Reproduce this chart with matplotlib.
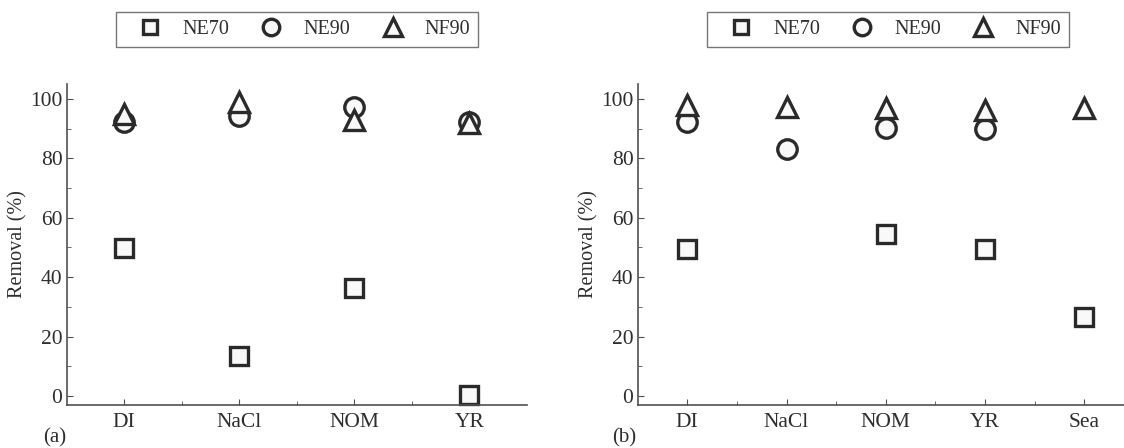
import matplotlib
matplotlib.use("Agg")
import matplotlib.pyplot as plt
from matplotlib.ticker import MultipleLocator

plt.rcParams['font.family'] = ['Liberation Serif', 'DejaVu Serif']

# panel (a)
cats_a = ["DI", "NaCl", "NOM", "YR"]
ne70_a = [49.7, 13.4, 36.5, 0.2]
ne90_a = [92.2, 94.2, 97.3, 92.2]
nf90_a = [95.0, 99.0, 93.0, 92.0]

# panel (b)
cats_b = ["DI", "NaCl", "NOM", "YR", "Sea"]
ne70_b = [49.5, None, 54.5, 49.5, 26.5]
ne90_b = [92.3, 83.2, 90.3, 89.7, None]
nf90_b = [97.8, 97.2, 96.8, 96.2, 96.8]

series_names = ["NE70", "NE90", "NF90"]
markers = ["s", "o", "^"]
sizes = [12.5, 14, 15]
edge = "#2a2a2a"
face = "#f9f9f9"
txt = "#2e2e2e"

fig = plt.figure(figsize=(11.24, 4.48), dpi=100)
ax_a = fig.add_axes([0.0593, 0.0967, 0.4096, 0.7158])
ax_b = fig.add_axes([0.5673, 0.0967, 0.4416, 0.7158])


def draw(ax, cats, data):
    x = list(range(1, len(cats) + 1))
    handles = []
    for vals, m, ms, name in zip(data, markers, sizes, series_names):
        xs = [xi for xi, v in zip(x, vals) if v is not None]
        ys = [v for v in vals if v is not None]
        h, = ax.plot(xs, ys, linestyle="none", marker=m, markersize=ms,
                     markerfacecolor=face, markeredgecolor=edge,
                     markeredgewidth=2.4, label=name, clip_on=False)
        handles.append(h)
    ax.set_xlim(0.5, len(cats) + 0.5)
    ax.set_ylim(-2.9, 105)
    ax.set_xticks(x)
    ax.set_xticklabels(cats)
    ax.set_xticks([i + 0.5 for i in x[:-1]], minor=True)
    ax.yaxis.set_minor_locator(MultipleLocator(10))
    ax.set_yticks([0, 20, 40, 60, 80, 100])
    for s in ["top", "right"]:
        ax.spines[s].set_visible(False)
    for s in ["left", "bottom"]:
        ax.spines[s].set_color("#505050")
        ax.spines[s].set_linewidth(1.2)
    ax.tick_params(which="both", direction="in", colors="#505050",
                   labelcolor=txt, labelsize=15.5)
    ax.tick_params(axis="y", pad=3)
    ax.tick_params(axis="x", pad=6)
    ax.tick_params(which="major", length=4)
    ax.tick_params(which="minor", length=3)
    ax.set_ylabel("Removal (%)", fontsize=14.5, color=txt, labelpad=2)
    return handles


h_a = draw(ax_a, cats_a, [ne70_a, ne90_a, nf90_a])
h_b = draw(ax_b, cats_b, [ne70_b, ne90_b, nf90_b])

for handles, cx in [(h_a, 0.2643), (h_b, 0.79)]:
    leg = fig.legend(handles=handles, loc="center", bbox_to_anchor=(cx, 0.9333),
                     ncol=3, fontsize=14.5, frameon=True, fancybox=False,
                     handlelength=2.6, handletextpad=0.3, columnspacing=0.8,
                     borderpad=0.4, borderaxespad=0, markerscale=0.85)
    leg.get_frame().set_edgecolor("#555555")
    leg.get_frame().set_linewidth(1.0)
    for t in leg.get_texts():
        t.set_color(txt)

fig.text(0.038, 0.012, "(a)", fontsize=15, color=txt)
fig.text(0.5445, 0.012, "(b)", fontsize=15, color=txt)

fig.savefig("out.png", dpi=100)
